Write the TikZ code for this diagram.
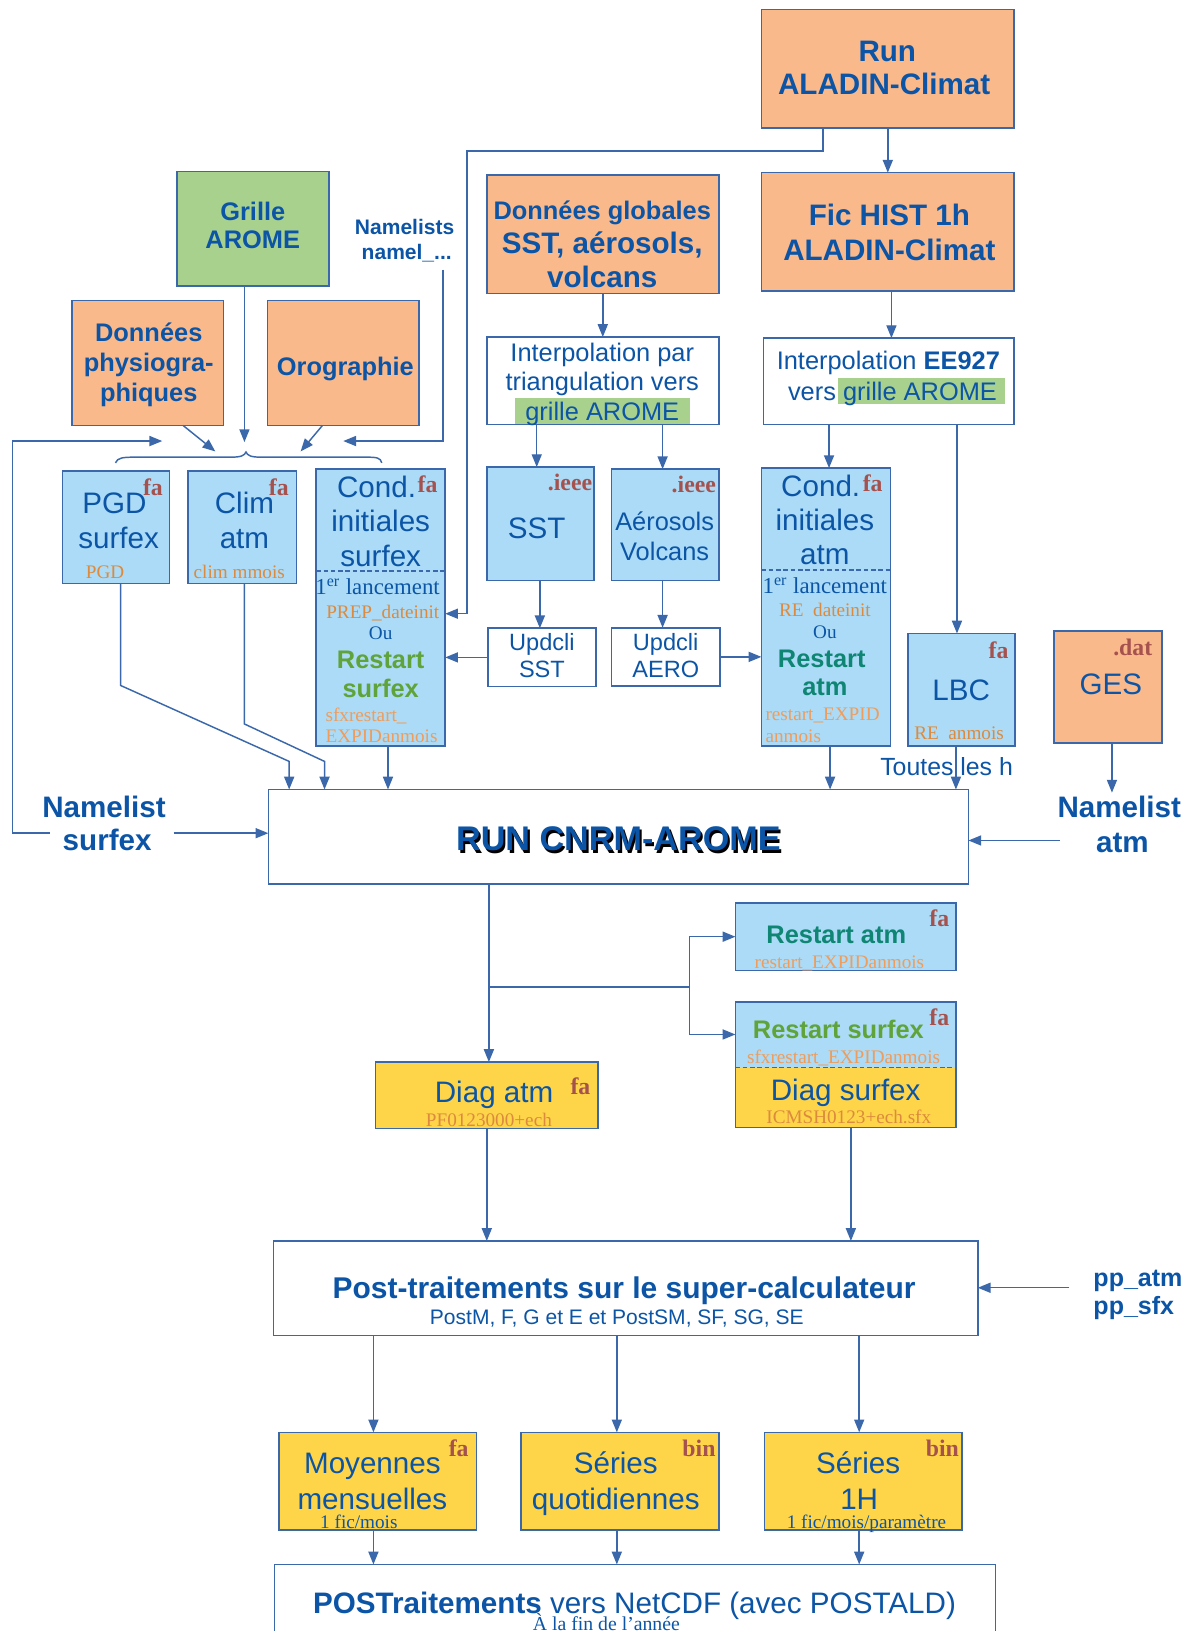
\documentclass[tikz,border=0pt]{standalone}
\usepackage{fontspec}
\setmainfont{Liberation Sans}
\newfontfamily\serifx{Liberation Serif}
\usetikzlibrary{arrows.meta}
\definecolor{bord}{HTML}{3A68AA}
\definecolor{txtb}{HTML}{0C55A6}
\definecolor{orf}{HTML}{F9B98B}
\definecolor{grf}{HTML}{A9D18E}
\definecolor{blf}{HTML}{ABDBF6}
\definecolor{yef}{HTML}{FED549}
\definecolor{brn}{HTML}{A5524E}
\definecolor{orx}{HTML}{DC8A3E}
\definecolor{orl}{HTML}{F09C5A}
\definecolor{grt}{HTML}{5FA33A}
\definecolor{tealx}{HTML}{0F8574}
\begin{document}
\begin{tikzpicture}[x=0.02cm,y=-0.02cm,
  box/.style={draw=bord,line width=0.9pt,outer sep=0pt,inner sep=0pt},
  sz/.style 2 args={minimum width=#1*0.02cm,minimum height=#2*0.02cm},
  ob/.style={box,fill=orf}, bb/.style={box,fill=blf}, yb/.style={box,fill=yef},
  wb/.style={box,fill=white}, gb/.style={box,fill=grf},
  arr/.style={draw=bord,line width=0.8pt,-{Triangle[length=7pt,width=5.5pt]}},
  ln/.style={draw=bord,line width=0.8pt},
  dsh/.style={draw=bord,line width=0.8pt,dash pattern=on 2.5pt off 1.5pt},
  txt/.style={inner sep=0pt,outer sep=0pt,text=txtb,text depth=0pt},
  tL/.style={txt,font=\fontsize{16.2}{19}\selectfont,text height=11.4pt},
  tLB/.style={txt,font=\bfseries\fontsize{16.2}{19}\selectfont,text height=11.4pt},
  tM/.style={txt,font=\fontsize{13.9}{16}\selectfont,text height=9.8pt},
  tMB/.style={txt,font=\bfseries\fontsize{13.9}{16}\selectfont,text height=9.8pt},
  tU/.style={txt,font=\fontsize{12.9}{15}\selectfont,text height=9.1pt},
  tS/.style={txt,font=\serifx\fontsize{10.5}{12}\selectfont,text height=7.4pt},
  tSL/.style={txt,font=\serifx\fontsize{12.5}{14}\selectfont,text height=8.8pt},
  tag/.style={txt,text=brn,font=\serifx\bfseries\fontsize{13}{15}\selectfont,text height=9pt},
  oS/.style={tS,text=orx}, lS/.style={tS,text=orl}
]
\useasboundingbox (0,0) rectangle (1146,1568);
\clip (0,0) rectangle (1146,1568);

% ---------- boxes ----------
\node[ob,sz={243}{114}] (run) at (853.5,66) {};
\node[ob,sz={243}{114}] (fic) at (853.5,223) {};
\node[ob,sz={223}{114}] (dglob) at (579.5,225) {};
\node[wb,sz={223}{84}] (interpA) at (579.5,366) {};
\node[wb,sz={241}{83}] (interpB) at (854.5,366.5) {};
\node[gb,sz={146}{110}] (grille) at (243,220) {};
\node[ob,sz={146}{120}] (physio) at (142,349) {};
\node[ob,sz={146}{120}] (oro) at (330,349) {};
\node[bb,sz={103}{108}] (pgd) at (111.5,507) {};
\node[bb,sz={104}{108}] (clim) at (233,507) {};
\node[bb,sz={124}{266}] (condsfx) at (366,584) {};
\node[bb,sz={103}{109}] (sst) at (519.5,503.5) {};
\node[bb,sz={103}{107}] (aero) at (639.5,504.5) {};
\node[wb,sz={104}{56}] (updsst) at (521,632) {};
\node[wb,sz={104}{56}] (updaero) at (640,631.5) {};
\node[bb,sz={124}{267}] (condatm) at (794,583.5) {};
\node[bb,sz={103}{108}] (lbc) at (924.5,663) {};
\node[ob,sz={104}{108}] (ges) at (1065,660.5) {};
\node[wb,sz={673}{91}] (runc) at (594.5,804.5) {};
\node[bb,sz={212}{65}] (restatm) at (813,900.5) {};
\node[fill=blf,inner sep=0pt,outer sep=0pt,sz={212}{63}] (restsfx) at (813,994.5) {};
\node[fill=yef,inner sep=0pt,outer sep=0pt,sz={212}{58}] (diagsfx) at (813,1055) {};
\draw[draw=bord,line width=0.9pt] (restsfx.north west) rectangle (diagsfx.south east);
\draw[dsh] (restsfx.south west) -- (restsfx.south east);
\node[yb,sz={214}{64}] (diagatm) at (468,1053) {};
\node[wb,sz={677}{91}] (post) at (601.5,1238.5) {};
\node[yb,sz={190}{94}] (moy) at (363,1424) {};
\node[yb,sz={190}{94}] (sq) at (596,1424) {};
\node[yb,sz={190}{94}] (sh) at (830,1424) {};
\node[wb,sz={693}{120}] (pnc) at (610.5,1564) {};

% dashed separators
\draw[dsh] (condsfx.west |- 0,549) -- (condsfx.east |- 0,549);
\draw[dsh] (condatm.west |- 0,548) -- (condatm.east |- 0,548);

% highlights
\fill[grf] (495,383) rectangle (663,407.3);
\fill[grf] (806,363) rectangle (966,388);

% ---------- texts ----------
\node[tLB] (t1) at (853,49) {Run};
\node[tLB] (t2) at (850,81) {ALADIN-Climat};
\node[tLB] (t3) at (855,207) {Fic HIST 1h};
\node[tLB] (t4) at (855,240) {ALADIN-Climat};
\node[tMB] (t5) at (579,202) {Données globales};
\node[tLB] (t6) at (579,234) {SST, aérosols,};
\node[tLB] (t7) at (579,266) {volcans};
\node[tM] (t8) at (579,339) {Interpolation par};
\node[tM] (t9) at (579,367) {triangulation vers};
\node[tM] (t10) at (579,396) {grille AROME};
\node[tM] (t11) at (854,347) {Interpolation \textbf{EE927}};
\node[tM] (t12) at (858,376) {vers grille AROME};
\node[tMB] (t13) at (243,203) {Grille};
\node[tMB] (t14) at (243,230) {AROME};
\node[tMB] (t15) at (143,320) {Données};
\node[tMB] (t16) at (143,349) {physiogra-};
\node[tMB] (t17) at (143,377) {phiques};
\node[tMB] (t18) at (332,352) {Orographie};
\node[txt,font=\bfseries\fontsize{11.5}{13}\selectfont,text height=8.2pt] (nm1) at (389,218) {Namelists};
\node[txt,font=\bfseries\fontsize{11.5}{13}\selectfont,text height=8.2pt] (nm2) at (391,242) {namel\_...};

\node[tL] (t19) at (110,484) {PGD};
\node[tL] (t20) at (114,517) {surfex};
\node[tag] (g1) at (147,468) {fa};
\node[oS] (t21) at (101,550) {PGD};
\node[tL] (t22) at (235,484) {Clim};
\node[tL] (t23) at (235,517) {atm};
\node[tag] (g2) at (268,468) {fa};
\node[oS] (t24) at (230,550) {clim mmois};

\node[tL] (t25) at (362,468) {Cond.};
\node[tag] (g3) at (411,466) {fa};
\node[tL] (t26) at (366,501) {initiales};
\node[tL] (t27) at (366,535) {surfex};
\node[tSL] (t28) at (363,564) {1\textsuperscript{er} lancement};
\node[oS] (t29) at (368,588) {PREP\_dateinit};
\node[tS] (t30) at (366,608) {Ou};
\node[tMB,text=grt] (t31) at (366,634) {Restart};
\node[tMB,text=grt] (t32) at (366,662) {surfex};
\node[lS,anchor=west] (t33) at (313,687) {sfxrestart\_};
\node[lS,anchor=west] (t34) at (313,707) {EXPIDanmois};

\node[tag] (g4) at (548,464) {.ieee};
\node[tL] (t35) at (516,508) {SST};
\node[tag] (g5) at (667,466) {.ieee};
\node[tM] (t36) at (639,501) {Aérosols};
\node[tM] (t37) at (639,530) {Volcans};
\node[tU] (t38) at (521,617) {Updcli};
\node[tU] (t39) at (521,643) {SST};
\node[tU] (t40) at (640,617) {Updcli};
\node[tU] (t41) at (640,643) {AERO};

\node[tL] (t42) at (789,467) {Cond.};
\node[tag] (g6) at (839,465) {fa};
\node[tL] (t43) at (793,500) {initiales};
\node[tL] (t44) at (793,533) {atm};
\node[tSL] (t45) at (793,563) {1\textsuperscript{er} lancement};
\node[oS] (t46) at (793,586) {RE~~dateinit};
\node[tS] (t47) at (793,607) {Ou};
\node[tMB,text=tealx] (t48) at (790,633) {Restart};
\node[tMB,text=tealx] (t49) at (793,660) {atm};
\node[lS,anchor=west] (t50) at (736,686) {restart\_EXPID};
\node[lS,anchor=west] (t51) at (736,707) {anmois};

\node[tag] (g7) at (960,625) {fa};
\node[tL] (t52) at (924,663) {LBC};
\node[oS] (t53) at (922,704) {RE~~anmois};
\node[tag] (g8) at (1089,622) {.dat};
\node[tL] (t54) at (1068,658) {GES};
\node[txt,font=\fontsize{13.6}{16}\selectfont,text height=9.6pt] (t55) at (910,737) {Toutes les h};
\node[tLB] (nla1) at (1076,776) {Namelist};
\node[tLB] (nla2) at (1079,810) {atm};
\node[tLB] (nls1) at (100,776) {Namelist};
\node[tLB] (nls2) at (103,808) {surfex};

\node[txt,text=black,font=\bfseries\fontsize{18.7}{22}\selectfont,text height=13.4pt] (rs) at (596.5,808.5) {RUN CNRM-AROME};
\node[txt,font=\bfseries\fontsize{18.7}{22}\selectfont,text height=13.4pt] (rt) at (594.5,806) {RUN CNRM-AROME};

\node[tMB,text=tealx] (t56) at (804,898) {Restart atm};
\node[tag] (g9) at (903,883) {fa};
\node[lS] (t57) at (807,925) {restart\_EXPIDanmois};
\node[tMB,text=grt] (t58) at (806,990) {Restart surfex};
\node[tag] (g10) at (903,978) {fa};
\node[lS] (t59) at (811,1016) {sfxrestart\_EXPIDanmois};
\node[tL] (t60) at (813,1048) {Diag surfex};
\node[oS] (t61) at (816,1074) {ICMSH0123+ech.sfx};
\node[tL] (t62) at (475,1050) {Diag atm};
\node[tag] (g11) at (558,1044) {fa};
\node[oS] (t63) at (470,1076) {PF0123000+ech};

\node[txt,font=\bfseries\fontsize{16.4}{19}\selectfont,text height=11.6pt] (t64) at (600,1238) {Post-traitements sur le super-calculateur};
\node[txt,font=\fontsize{11.5}{13}\selectfont,text height=8.2pt] (t65) at (593,1266) {PostM, F, G et E et PostSM, SF, SG, SE};
\node[txt,font=\bfseries\fontsize{13.7}{16}\selectfont,text height=9.7pt] (pp1) at (1094,1228) {pp\_atm};
\node[txt,font=\bfseries\fontsize{13.7}{16}\selectfont,text height=9.7pt] (pp2) at (1090,1255) {pp\_sfx};

\node[tag] (g12) at (441,1392) {fa};
\node[tL] (t66) at (358,1407) {Moyennes};
\node[tL] (t67) at (358,1441) {mensuelles};
\node[tS] (t68) at (345,1463) {1 fic/mois};
\node[tag] (g13) at (672,1392) {bin};
\node[tL] (t69) at (592,1407) {Séries};
\node[tL] (t70) at (592,1441) {quotidiennes};
\node[tag] (g14) at (906,1392) {bin};
\node[tL] (t71) at (825,1407) {Séries};
\node[tL] (t72) at (826,1441) {1H};
\node[tS] (t73) at (833,1463) {1 fic/mois/paramètre};
\node[tL] (t74) at (610,1541) {\textbf{POSTraitements} vers NetCDF (avec POSTALD)};
\node[txt,font=\serifx\fontsize{10.8}{12}\selectfont,text height=7.6pt] (t75) at (583,1561) {À la fin de l’année};

% ---------- brace ----------
\draw[ln] (111,445) .. controls (113,440) and (118,439.5) .. (130,439.5) -- (222,439.5)
  .. controls (232,439.5) and (235,438) .. (236.5,434.5)
  .. controls (238,438) and (241,439.5) .. (251,439.5) -- (352,439.5)
  .. controls (362,439.5) and (366,440) .. (367,445);
\coordinate (bA) at (207,434);
\coordinate (bB) at (235,425);
\coordinate (bC) at (289,434);
\coordinate (bD) at (330,424);
\coordinate (bE) at (156,424);
\coordinate (nlsL) at (48,801);
\coordinate (nlsR) at (167,801);
\coordinate (nlaL) at (1019,808);
\coordinate (ppL) at (1028,1238);

% ---------- connectors ----------
\draw[arr] (176,0 |- physio.south) -- (bA);
\draw[arr] (235,0 |- grille.south) -- (bB);
\draw[arr] (310,0 |- oro.south) -- (bC);
\draw[arr] (426,0 |- nm2.south) ++(0,10) -- (426,424) -- (bD);
\draw[arr] (nlsL) -- (12,801) -- (12,424) -- (bE);
\draw[arr] (nlsR) -- (runc.west |- nlsR);

\draw[arr] (run.south) -- (fic.north);
\draw[arr] (791,0 |- run.south) -- (791,145) -- (449,145) -- (449,590) -- (condsfx.east |- 0,590);
\draw[arr] (dglob.south) -- (interpA.north);
\draw[arr] (857,0 |- fic.south) -- (857,0 |- interpB.north);
\draw[arr] (516,0 |- interpA.south) -- (516,0 |- sst.north);
\draw[arr] (637,0 |- interpA.south) -- (637,0 |- aero.north);
\draw[arr] (519,0 |- sst.south) -- (519,0 |- updsst.north);
\draw[arr] (637,0 |- aero.south) -- (637,0 |- updaero.north);
\draw[arr] (updsst.west) -- (condsfx.east |- updsst.west);
\draw[arr] (updaero.east) -- (condatm.west |- updaero.east);
\draw[arr] (797,0 |- interpB.south) -- (797,0 |- condatm.north);
\draw[arr] (920,0 |- interpB.south) -- (920,0 |- lbc.north);

\draw[arr] ([xshift=0.09cm]pgd.south) -- ++(0,98) -- (278,732) -- (278,0 |- runc.north);
\draw[arr] ([xshift=0.04cm]clim.south) -- ++(0,135) -- (312,732) -- (312,0 |- runc.north);
\draw[arr] (373,0 |- condsfx.south) -- (373,0 |- runc.north);
\draw[arr] (798,0 |- condatm.south) -- (798,0 |- runc.north);
\draw[arr] (919,0 |- lbc.south) -- (919,0 |- runc.north);
\draw[arr] (1069,0 |- ges.south) -- (1069,762);
\draw[arr] (nlaL) -- (runc.east |- nlaL);

\draw[arr] (470,0 |- runc.south) -- (470,0 |- diagatm.north);
\draw[ln] (470,949) -- (663,949);
\draw[arr] (663,949) |- (restatm.west);
\draw[arr] (663,949) |- (restsfx.west);
\draw[arr] (468,0 |- diagatm.south) -- (468,0 |- post.north);
\draw[arr] (818,0 |- diagsfx.south) -- (818,0 |- post.north);
\draw[arr] (ppL) -- (post.east |- ppL);

\draw[arr] (359,0 |- post.south) -- (359,0 |- moy.north);
\draw[arr] (593,0 |- post.south) -- (593,0 |- sq.north);
\draw[arr] (826,0 |- post.south) -- (826,0 |- sh.north);
\draw[arr] (359,0 |- moy.south) -- (359,0 |- pnc.north);
\draw[arr] (593,0 |- sq.south) -- (593,0 |- pnc.north);
\draw[arr] (826,0 |- sh.south) -- (826,0 |- pnc.north);
\end{tikzpicture}
\end{document}
